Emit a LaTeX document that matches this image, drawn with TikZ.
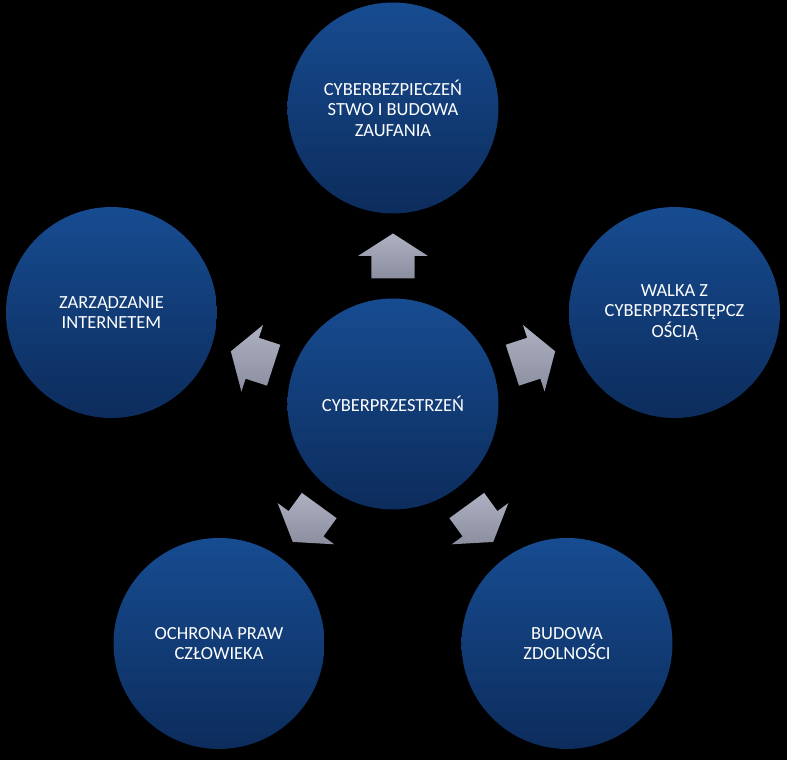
\documentclass[tikz,border=0pt]{standalone}
\usepackage{fontspec}
\setmainfont{Carlito}
\usepackage{xcolor}
\usepackage{tikz}

\definecolor{discTop}{HTML}{174C91}
\definecolor{discBottom}{HTML}{0C2C5C}
\definecolor{arrowTop}{HTML}{ADB1C1}
\definecolor{arrowBottom}{HTML}{8A8E9F}

\begin{document}
\begin{tikzpicture}[x=1pt, y=1pt,
    topic/.style={circle, minimum size=211pt, inner sep=0pt, top color=discTop, bottom color=discBottom, text=white, align=center, font=\fontsize{18.5}{20.5}\selectfont},
    blockarrow/.style={top color=arrowTop, bottom color=arrowBottom}]

    \fill [black] (-393,-356) rectangle (394,404);

    \node [topic] (hub) at (0,0) {CYBERPRZESTRZEŃ};
    \node [topic] (trust) at (90:296) {CYBERBEZPIECZEŃ\\STWO I BUDOWA\\ZAUFANIA};
    \node [topic] (crime) at (18:296) {WALKA Z\\CYBERPRZESTĘPCZ\\OŚCIĄ};
    \node [topic] (capacity) at (-54:296) {BUDOWA\\ZDOLNOŚCI};
    \node [topic] (rights) at (-126:296) {OCHRONA PRAW\\CZŁOWIEKA};
    \node [topic] (governance) at (162:296) {ZARZĄDZANIE\\INTERNETEM};

    % block arrows from the hub towards each topic
    \foreach \a in {90,18,-54,-126,162}
        \path [blockarrow, rotate=\a] (125.5,-21.5) -- (148,-21.5) -- (148,-35) -- (170.5,0)
            -- (148,35) -- (148,21.5) -- (125.5,21.5) -- cycle;
\end{tikzpicture}
\end{document}
